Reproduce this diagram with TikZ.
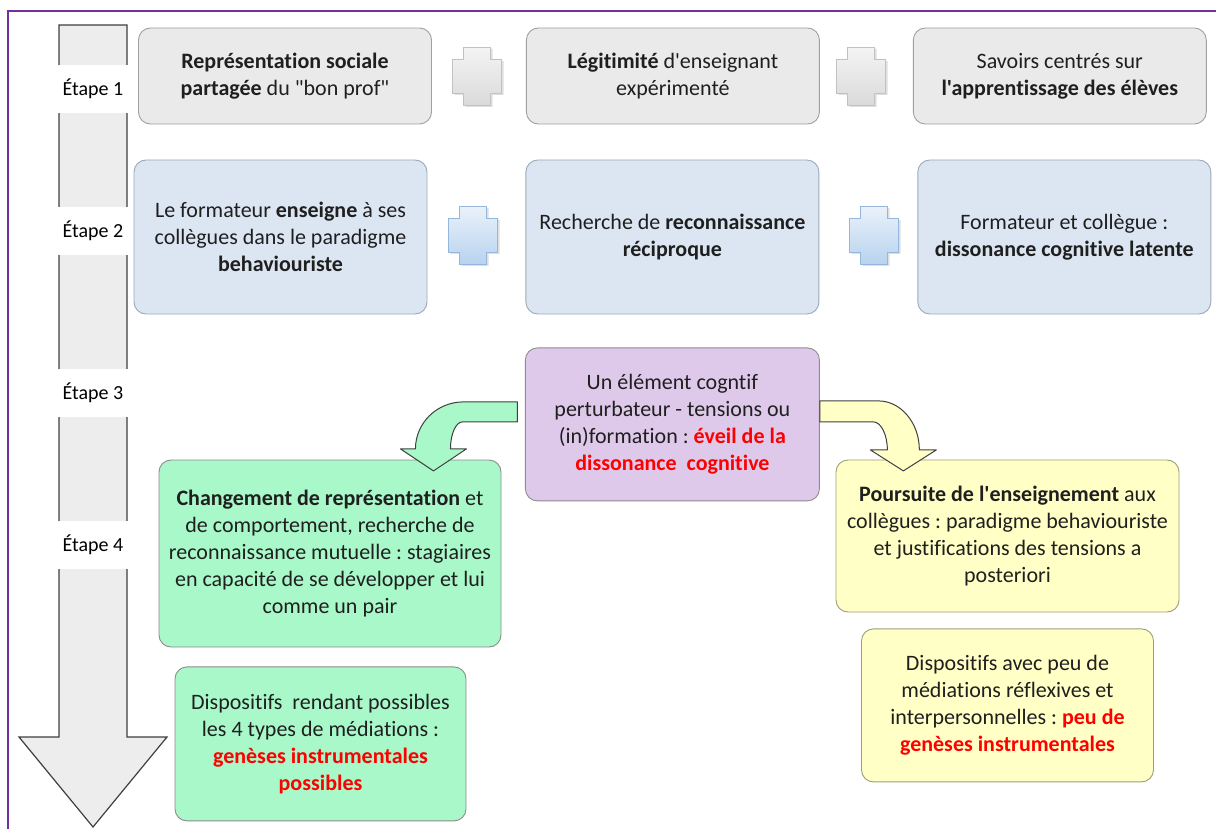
\documentclass[tikz,border=0pt]{standalone}
\usepackage{fontspec}
\setmainfont{Carlito}[Ligatures={TeXOff, CommonOff}]
\usepackage{tikz}
\usetikzlibrary{positioning, shadows}
\definecolor{framepurple}{HTML}{7030A0}
\definecolor{stepgray}{HTML}{EDEDED}
\definecolor{stepborder}{HTML}{3F3F3F}
\definecolor{boxgray}{HTML}{EAEAEA}
\definecolor{boxgrayborder}{HTML}{A0A0A0}
\definecolor{boxblue}{HTML}{DCE6F2}
\definecolor{boxblueborder}{HTML}{9BA9B9}
\definecolor{boxpurple}{HTML}{DFC9EB}
\definecolor{boxgreen}{HTML}{A8F8C9}
\definecolor{boxyellow}{HTML}{FFFFC6}
\definecolor{boxborder}{HTML}{8C8C8C}
\definecolor{plusgray}{HTML}{DADADA}
\definecolor{plusgrayborder}{HTML}{C2C2C2}
\definecolor{plusblue}{HTML}{B8D3EF}
\definecolor{plusblueborder}{HTML}{95B7DE}
\definecolor{alertred}{HTML}{FF0000}
\newcommand{\rouge}[1]{\textcolor{alertred}{\textbf{#1}}}
\frenchspacing

\tikzset{
    pics/plussign/.style 2 args={code={
        \path[draw=#2, line width=0.6pt, top color=#1!30, bottom color=#1,
              drop shadow={shadow xshift=2pt, shadow yshift=-2pt, opacity=0.25}]
            (-13.5,-29) -- (13.5,-29) -- (13.5,-17) -- (24.5,-17) -- (24.5,17)
            -- (13.5,17) -- (13.5,29) -- (-13.5,29) -- (-13.5,17) -- (-24.5,17)
            -- (-24.5,-17) -- (-13.5,-17) -- cycle;
    }},
}

\begin{document}
\begin{tikzpicture}[
    x=1pt, y=-1pt,
    box/.style={draw, rounded corners=12pt, line width=0.9pt, align=center, inner sep=2pt,
                text=black!88, font=\fontsize{22}{26.8}\selectfont},
    graybox/.style={box, fill=boxgray, draw=boxgrayborder, minimum width=293pt, minimum height=96pt},
    bluebox/.style={box, fill=boxblue, draw=boxblueborder, minimum width=293pt, minimum height=154pt},
    purplebox/.style={box, fill=boxpurple, draw=boxborder, minimum width=294pt, minimum height=153pt},
    greenbox/.style={box, fill=boxgreen, draw=boxborder},
    yellowbox/.style={box, fill=boxyellow, draw=boxborder!85!yellow},
    steplabel/.style={fill=white, minimum width=74pt, minimum height=48pt, inner sep=0pt,
                      font=\fontsize{20}{24}\selectfont},
    blockarrow/.style={draw=black!75, line width=1pt, line join=round},
]
\useasboundingbox (0,0) rectangle (1216,829);

% frame
\draw[framepurple, line width=1.6pt] (8,829) -- (8,11) -- (1216,11);

% === TIMELINE ===
\draw[fill=stepgray, draw=stepborder, line width=1.2pt]
    (59,25) -- (127,25) -- (127,737) -- (167,737) -- (93,827) -- (19,737) -- (59,737) -- cycle;

\node[steplabel] (etape1) at (93,89) {Étape 1};
\node[steplabel] (etape2) at (93,231) {Étape 2};
\node[steplabel] (etape3) at (93,393) {Étape 3};
\node[steplabel] (etape4) at (93,545) {Étape 4};

% === ETAPE 1 ===
\node[graybox] (repr) at (285,76)
    {\textbf{Représentation sociale}\\ \textbf{partagée} du "bon prof"};
\node[graybox, right=94pt of repr] (legit)
    {\textbf{Légitimité} d'enseignant\\ expérimenté};
\node[graybox, right=93pt of legit] (savoirs)
    {Savoirs centrés sur\\ \textbf{l'apprentissage des élèves}};

\pic at (477,76) {plussign={plusgray}{plusgrayborder}};
\pic at (861,76) {plussign={plusgray}{plusgrayborder}};

% === ETAPE 2 ===
\node[bluebox] (enseigne) at (280.5,237)
    {Le formateur \textbf{enseigne} à ses\\ collègues dans le paradigme\\ \textbf{behaviouriste}};
\node[bluebox, right=98pt of enseigne] (reconn)
    {Recherche de \textbf{reconnaissance}\\ \textbf{réciproque}};
\node[bluebox, right=98pt of reconn] (latente)
    {Formateur et collègue :\\ \textbf{dissonance cognitive latente}};

\pic at (473,235) {plussign={plusblue}{plusblueborder}};
\pic at (874,235) {plussign={plusblue}{plusblueborder}};

% === ETAPE 3 ===
\node[purplebox, below=33pt of reconn] (eveil)
    {Un élément cogntif\\ perturbateur - tensions ou\\ (in)formation : \rouge{éveil de la}\\
     \rouge{dissonance\ \ cognitive}};

% === ETAPE 4 ===
\node[greenbox, minimum width=342pt, minimum height=187pt] (changement) at (330,553.5)
    {\textbf{Changement de représentation} et\\ de comportement, recherche de\\
     reconnaissance mutuelle : stagiaires\\ en capacité de se développer et lui\\ comme un pair};
\node[greenbox, minimum width=291pt, minimum height=154pt, below=19pt of changement, xshift=-9.5pt]
    (genesesok)
    {Dispositifs\ \ rendant possibles\\ les 4 types de médiations :\\
     \rouge{genèses instrumentales}\\ \rouge{possibles}};

\node[yellowbox, minimum width=343pt, minimum height=152pt] (poursuite) at (1007.5,536)
    {\textbf{Poursuite de l'enseignement} aux\\ collègues : paradigme behaviouriste\\
     et justifications des tensions a\\ posteriori};
\node[yellowbox, minimum width=292pt, minimum height=153pt, below=16pt of poursuite] (genesespeu)
    {Dispositifs avec peu de\\ médiations réflexives et\\ interpersonnelles : \rouge{peu de}\\
     \rouge{genèses instrumentales}};

% curved block arrows out of eveil
\draw[blockarrow, fill=boxgreen, shift={(eveil.west)}]
    (-7.5,-22.5) -- (-61.5,-22.5) .. controls (-88,-22.5) and (-109.5,-1.5) .. (-109.5,24.5)
    -- (-124.5,24.5) -- (-91.5,46.5) -- (-58.5,24.5) -- (-74.5,24.5)
    .. controls (-74.5,9.5) and (-69,-2.5) .. (-62.5,-2.5) -- (-7.5,-2.5) -- cycle;
\draw[blockarrow, fill=boxyellow, shift={(eveil.east)}]
    (0,-23.5) -- (58.5,-23.5) .. controls (81,-23.5) and (99.5,-1.5) .. (99.5,25.5)
    -- (116.5,25.5) -- (83.5,46.5) -- (50.5,25.5) -- (67.5,25.5)
    .. controls (67.5,10) and (61,-2.5) .. (53.5,-2.5) -- (0,-2.5) -- cycle;

\end{tikzpicture}
\end{document}
